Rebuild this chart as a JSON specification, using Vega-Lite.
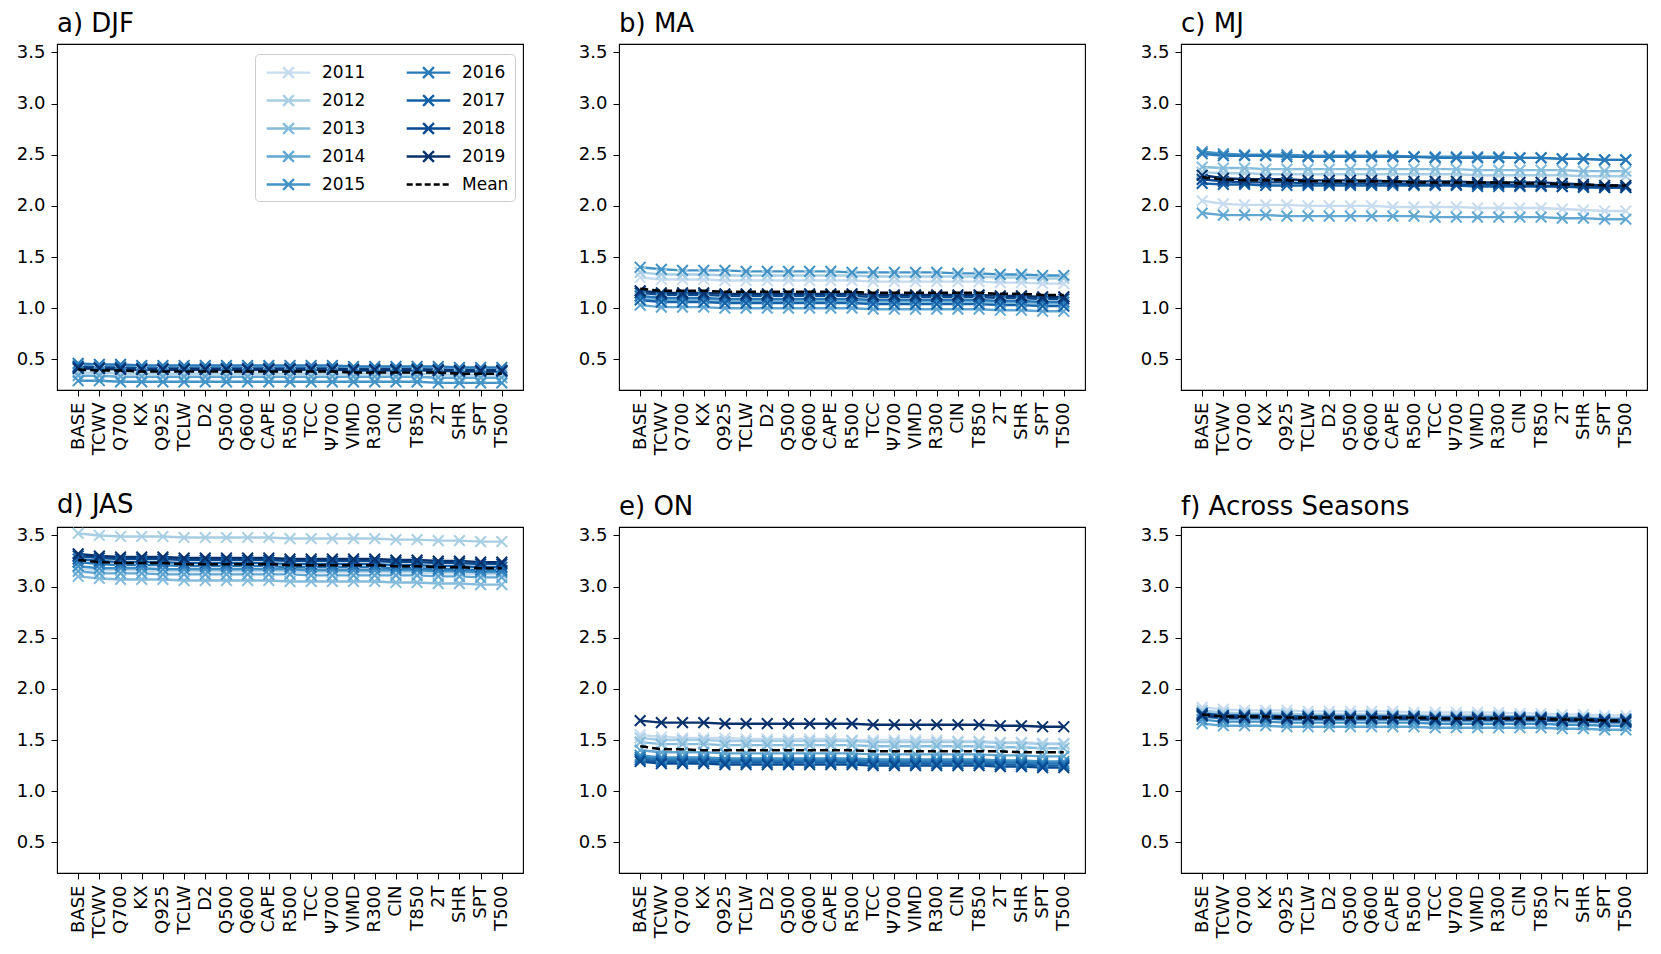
{
"$schema": "https://vega.github.io/schema/vega-lite/v6.json",
"padding": {"left": 15, "top": 10, "right": 5, "bottom": 5},
"background": "white",
"config": {
  "font": "DejaVu Sans",
  "view": {"stroke": "#000000", "strokeWidth": 1.1},
  "axis": {"grid": false, "domain": false, "tickColor": "#000000", "labelColor": "#000000", "labelFontSize": 18, "tickSize": 6, "tickWidth": 1, "labelPadding": 6, "labelFont": "DejaVu Sans"},
  "legend": {"labelFont": "DejaVu Sans"}
},
"data": {"values": [
{"p":"a","s":"2011","x":"BASE","v":0.40},{"p":"a","s":"2011","x":"TCWV","v":0.40},{"p":"a","s":"2011","x":"Q700","v":0.39},{"p":"a","s":"2011","x":"KX","v":0.39},{"p":"a","s":"2011","x":"Q925","v":0.39},{"p":"a","s":"2011","x":"TCLW","v":0.39},{"p":"a","s":"2011","x":"D2","v":0.39},{"p":"a","s":"2011","x":"Q500","v":0.39},{"p":"a","s":"2011","x":"Q600","v":0.39},{"p":"a","s":"2011","x":"CAPE","v":0.39},{"p":"a","s":"2011","x":"R500","v":0.39},{"p":"a","s":"2011","x":"TCC","v":0.39},{"p":"a","s":"2011","x":"Ψ700","v":0.39},{"p":"a","s":"2011","x":"VIMD","v":0.39},{"p":"a","s":"2011","x":"R300","v":0.39},{"p":"a","s":"2011","x":"CIN","v":0.39},{"p":"a","s":"2011","x":"T850","v":0.39},{"p":"a","s":"2011","x":"2T","v":0.38},{"p":"a","s":"2011","x":"SHR","v":0.38},{"p":"a","s":"2011","x":"SPT","v":0.38},{"p":"a","s":"2011","x":"T500","v":0.38},
{"p":"a","s":"2012","x":"BASE","v":0.37},{"p":"a","s":"2012","x":"TCWV","v":0.37},{"p":"a","s":"2012","x":"Q700","v":0.36},{"p":"a","s":"2012","x":"KX","v":0.36},{"p":"a","s":"2012","x":"Q925","v":0.36},{"p":"a","s":"2012","x":"TCLW","v":0.36},{"p":"a","s":"2012","x":"D2","v":0.36},{"p":"a","s":"2012","x":"Q500","v":0.36},{"p":"a","s":"2012","x":"Q600","v":0.36},{"p":"a","s":"2012","x":"CAPE","v":0.36},{"p":"a","s":"2012","x":"R500","v":0.36},{"p":"a","s":"2012","x":"TCC","v":0.36},{"p":"a","s":"2012","x":"Ψ700","v":0.36},{"p":"a","s":"2012","x":"VIMD","v":0.36},{"p":"a","s":"2012","x":"R300","v":0.36},{"p":"a","s":"2012","x":"CIN","v":0.36},{"p":"a","s":"2012","x":"T850","v":0.36},{"p":"a","s":"2012","x":"2T","v":0.35},{"p":"a","s":"2012","x":"SHR","v":0.35},{"p":"a","s":"2012","x":"SPT","v":0.35},{"p":"a","s":"2012","x":"T500","v":0.35},
{"p":"a","s":"2013","x":"BASE","v":0.44},{"p":"a","s":"2013","x":"TCWV","v":0.43},{"p":"a","s":"2013","x":"Q700","v":0.43},{"p":"a","s":"2013","x":"KX","v":0.42},{"p":"a","s":"2013","x":"Q925","v":0.42},{"p":"a","s":"2013","x":"TCLW","v":0.42},{"p":"a","s":"2013","x":"D2","v":0.42},{"p":"a","s":"2013","x":"Q500","v":0.42},{"p":"a","s":"2013","x":"Q600","v":0.42},{"p":"a","s":"2013","x":"CAPE","v":0.42},{"p":"a","s":"2013","x":"R500","v":0.42},{"p":"a","s":"2013","x":"TCC","v":0.42},{"p":"a","s":"2013","x":"Ψ700","v":0.42},{"p":"a","s":"2013","x":"VIMD","v":0.41},{"p":"a","s":"2013","x":"R300","v":0.41},{"p":"a","s":"2013","x":"CIN","v":0.41},{"p":"a","s":"2013","x":"T850","v":0.41},{"p":"a","s":"2013","x":"2T","v":0.41},{"p":"a","s":"2013","x":"SHR","v":0.40},{"p":"a","s":"2013","x":"SPT","v":0.40},{"p":"a","s":"2013","x":"T500","v":0.40},
{"p":"a","s":"2014","x":"BASE","v":0.34},{"p":"a","s":"2014","x":"TCWV","v":0.34},{"p":"a","s":"2014","x":"Q700","v":0.33},{"p":"a","s":"2014","x":"KX","v":0.33},{"p":"a","s":"2014","x":"Q925","v":0.33},{"p":"a","s":"2014","x":"TCLW","v":0.33},{"p":"a","s":"2014","x":"D2","v":0.33},{"p":"a","s":"2014","x":"Q500","v":0.33},{"p":"a","s":"2014","x":"Q600","v":0.33},{"p":"a","s":"2014","x":"CAPE","v":0.33},{"p":"a","s":"2014","x":"R500","v":0.33},{"p":"a","s":"2014","x":"TCC","v":0.33},{"p":"a","s":"2014","x":"Ψ700","v":0.33},{"p":"a","s":"2014","x":"VIMD","v":0.33},{"p":"a","s":"2014","x":"R300","v":0.33},{"p":"a","s":"2014","x":"CIN","v":0.33},{"p":"a","s":"2014","x":"T850","v":0.33},{"p":"a","s":"2014","x":"2T","v":0.32},{"p":"a","s":"2014","x":"SHR","v":0.32},{"p":"a","s":"2014","x":"SPT","v":0.32},{"p":"a","s":"2014","x":"T500","v":0.32},
{"p":"a","s":"2015","x":"BASE","v":0.29},{"p":"a","s":"2015","x":"TCWV","v":0.29},{"p":"a","s":"2015","x":"Q700","v":0.28},{"p":"a","s":"2015","x":"KX","v":0.28},{"p":"a","s":"2015","x":"Q925","v":0.28},{"p":"a","s":"2015","x":"TCLW","v":0.28},{"p":"a","s":"2015","x":"D2","v":0.28},{"p":"a","s":"2015","x":"Q500","v":0.28},{"p":"a","s":"2015","x":"Q600","v":0.28},{"p":"a","s":"2015","x":"CAPE","v":0.28},{"p":"a","s":"2015","x":"R500","v":0.28},{"p":"a","s":"2015","x":"TCC","v":0.28},{"p":"a","s":"2015","x":"Ψ700","v":0.28},{"p":"a","s":"2015","x":"VIMD","v":0.28},{"p":"a","s":"2015","x":"R300","v":0.28},{"p":"a","s":"2015","x":"CIN","v":0.28},{"p":"a","s":"2015","x":"T850","v":0.28},{"p":"a","s":"2015","x":"2T","v":0.27},{"p":"a","s":"2015","x":"SHR","v":0.27},{"p":"a","s":"2015","x":"SPT","v":0.27},{"p":"a","s":"2015","x":"T500","v":0.27},
{"p":"a","s":"2016","x":"BASE","v":0.46},{"p":"a","s":"2016","x":"TCWV","v":0.45},{"p":"a","s":"2016","x":"Q700","v":0.45},{"p":"a","s":"2016","x":"KX","v":0.44},{"p":"a","s":"2016","x":"Q925","v":0.44},{"p":"a","s":"2016","x":"TCLW","v":0.44},{"p":"a","s":"2016","x":"D2","v":0.44},{"p":"a","s":"2016","x":"Q500","v":0.44},{"p":"a","s":"2016","x":"Q600","v":0.44},{"p":"a","s":"2016","x":"CAPE","v":0.44},{"p":"a","s":"2016","x":"R500","v":0.44},{"p":"a","s":"2016","x":"TCC","v":0.44},{"p":"a","s":"2016","x":"Ψ700","v":0.44},{"p":"a","s":"2016","x":"VIMD","v":0.43},{"p":"a","s":"2016","x":"R300","v":0.43},{"p":"a","s":"2016","x":"CIN","v":0.43},{"p":"a","s":"2016","x":"T850","v":0.43},{"p":"a","s":"2016","x":"2T","v":0.43},{"p":"a","s":"2016","x":"SHR","v":0.42},{"p":"a","s":"2016","x":"SPT","v":0.42},{"p":"a","s":"2016","x":"T500","v":0.42},
{"p":"a","s":"2017","x":"BASE","v":0.42},{"p":"a","s":"2017","x":"TCWV","v":0.41},{"p":"a","s":"2017","x":"Q700","v":0.41},{"p":"a","s":"2017","x":"KX","v":0.40},{"p":"a","s":"2017","x":"Q925","v":0.40},{"p":"a","s":"2017","x":"TCLW","v":0.40},{"p":"a","s":"2017","x":"D2","v":0.40},{"p":"a","s":"2017","x":"Q500","v":0.40},{"p":"a","s":"2017","x":"Q600","v":0.40},{"p":"a","s":"2017","x":"CAPE","v":0.40},{"p":"a","s":"2017","x":"R500","v":0.40},{"p":"a","s":"2017","x":"TCC","v":0.40},{"p":"a","s":"2017","x":"Ψ700","v":0.40},{"p":"a","s":"2017","x":"VIMD","v":0.39},{"p":"a","s":"2017","x":"R300","v":0.39},{"p":"a","s":"2017","x":"CIN","v":0.39},{"p":"a","s":"2017","x":"T850","v":0.39},{"p":"a","s":"2017","x":"2T","v":0.39},{"p":"a","s":"2017","x":"SHR","v":0.38},{"p":"a","s":"2017","x":"SPT","v":0.38},{"p":"a","s":"2017","x":"T500","v":0.38},
{"p":"a","s":"2018","x":"BASE","v":0.43},{"p":"a","s":"2018","x":"TCWV","v":0.42},{"p":"a","s":"2018","x":"Q700","v":0.42},{"p":"a","s":"2018","x":"KX","v":0.41},{"p":"a","s":"2018","x":"Q925","v":0.41},{"p":"a","s":"2018","x":"TCLW","v":0.41},{"p":"a","s":"2018","x":"D2","v":0.41},{"p":"a","s":"2018","x":"Q500","v":0.41},{"p":"a","s":"2018","x":"Q600","v":0.41},{"p":"a","s":"2018","x":"CAPE","v":0.41},{"p":"a","s":"2018","x":"R500","v":0.41},{"p":"a","s":"2018","x":"TCC","v":0.41},{"p":"a","s":"2018","x":"Ψ700","v":0.41},{"p":"a","s":"2018","x":"VIMD","v":0.40},{"p":"a","s":"2018","x":"R300","v":0.40},{"p":"a","s":"2018","x":"CIN","v":0.40},{"p":"a","s":"2018","x":"T850","v":0.40},{"p":"a","s":"2018","x":"2T","v":0.40},{"p":"a","s":"2018","x":"SHR","v":0.39},{"p":"a","s":"2018","x":"SPT","v":0.39},{"p":"a","s":"2018","x":"T500","v":0.39},
{"p":"a","s":"2019","x":"BASE","v":0.41},{"p":"a","s":"2019","x":"TCWV","v":0.41},{"p":"a","s":"2019","x":"Q700","v":0.40},{"p":"a","s":"2019","x":"KX","v":0.40},{"p":"a","s":"2019","x":"Q925","v":0.40},{"p":"a","s":"2019","x":"TCLW","v":0.40},{"p":"a","s":"2019","x":"D2","v":0.40},{"p":"a","s":"2019","x":"Q500","v":0.40},{"p":"a","s":"2019","x":"Q600","v":0.40},{"p":"a","s":"2019","x":"CAPE","v":0.40},{"p":"a","s":"2019","x":"R500","v":0.40},{"p":"a","s":"2019","x":"TCC","v":0.40},{"p":"a","s":"2019","x":"Ψ700","v":0.40},{"p":"a","s":"2019","x":"VIMD","v":0.40},{"p":"a","s":"2019","x":"R300","v":0.40},{"p":"a","s":"2019","x":"CIN","v":0.40},{"p":"a","s":"2019","x":"T850","v":0.40},{"p":"a","s":"2019","x":"2T","v":0.39},{"p":"a","s":"2019","x":"SHR","v":0.39},{"p":"a","s":"2019","x":"SPT","v":0.39},{"p":"a","s":"2019","x":"T500","v":0.39},
{"p":"a","s":"Mean","x":"BASE","v":0.40},{"p":"a","s":"Mean","x":"TCWV","v":0.39},{"p":"a","s":"Mean","x":"Q700","v":0.39},{"p":"a","s":"Mean","x":"KX","v":0.38},{"p":"a","s":"Mean","x":"Q925","v":0.38},{"p":"a","s":"Mean","x":"TCLW","v":0.38},{"p":"a","s":"Mean","x":"D2","v":0.38},{"p":"a","s":"Mean","x":"Q500","v":0.38},{"p":"a","s":"Mean","x":"Q600","v":0.38},{"p":"a","s":"Mean","x":"CAPE","v":0.38},{"p":"a","s":"Mean","x":"R500","v":0.38},{"p":"a","s":"Mean","x":"TCC","v":0.38},{"p":"a","s":"Mean","x":"Ψ700","v":0.38},{"p":"a","s":"Mean","x":"VIMD","v":0.37},{"p":"a","s":"Mean","x":"R300","v":0.37},{"p":"a","s":"Mean","x":"CIN","v":0.37},{"p":"a","s":"Mean","x":"T850","v":0.37},{"p":"a","s":"Mean","x":"2T","v":0.37},{"p":"a","s":"Mean","x":"SHR","v":0.36},{"p":"a","s":"Mean","x":"SPT","v":0.36},{"p":"a","s":"Mean","x":"T500","v":0.36},
{"p":"b","s":"2011","x":"BASE","v":1.30},{"p":"b","s":"2011","x":"TCWV","v":1.28},{"p":"b","s":"2011","x":"Q700","v":1.28},{"p":"b","s":"2011","x":"KX","v":1.28},{"p":"b","s":"2011","x":"Q925","v":1.27},{"p":"b","s":"2011","x":"TCLW","v":1.27},{"p":"b","s":"2011","x":"D2","v":1.27},{"p":"b","s":"2011","x":"Q500","v":1.27},{"p":"b","s":"2011","x":"Q600","v":1.27},{"p":"b","s":"2011","x":"CAPE","v":1.27},{"p":"b","s":"2011","x":"R500","v":1.27},{"p":"b","s":"2011","x":"TCC","v":1.26},{"p":"b","s":"2011","x":"Ψ700","v":1.26},{"p":"b","s":"2011","x":"VIMD","v":1.26},{"p":"b","s":"2011","x":"R300","v":1.26},{"p":"b","s":"2011","x":"CIN","v":1.26},{"p":"b","s":"2011","x":"T850","v":1.26},{"p":"b","s":"2011","x":"2T","v":1.25},{"p":"b","s":"2011","x":"SHR","v":1.25},{"p":"b","s":"2011","x":"SPT","v":1.24},{"p":"b","s":"2011","x":"T500","v":1.24},
{"p":"b","s":"2012","x":"BASE","v":1.35},{"p":"b","s":"2012","x":"TCWV","v":1.33},{"p":"b","s":"2012","x":"Q700","v":1.33},{"p":"b","s":"2012","x":"KX","v":1.33},{"p":"b","s":"2012","x":"Q925","v":1.32},{"p":"b","s":"2012","x":"TCLW","v":1.32},{"p":"b","s":"2012","x":"D2","v":1.32},{"p":"b","s":"2012","x":"Q500","v":1.32},{"p":"b","s":"2012","x":"Q600","v":1.32},{"p":"b","s":"2012","x":"CAPE","v":1.32},{"p":"b","s":"2012","x":"R500","v":1.32},{"p":"b","s":"2012","x":"TCC","v":1.31},{"p":"b","s":"2012","x":"Ψ700","v":1.31},{"p":"b","s":"2012","x":"VIMD","v":1.31},{"p":"b","s":"2012","x":"R300","v":1.31},{"p":"b","s":"2012","x":"CIN","v":1.31},{"p":"b","s":"2012","x":"T850","v":1.31},{"p":"b","s":"2012","x":"2T","v":1.30},{"p":"b","s":"2012","x":"SHR","v":1.30},{"p":"b","s":"2012","x":"SPT","v":1.29},{"p":"b","s":"2012","x":"T500","v":1.29},
{"p":"b","s":"2013","x":"BASE","v":1.10},{"p":"b","s":"2013","x":"TCWV","v":1.08},{"p":"b","s":"2013","x":"Q700","v":1.08},{"p":"b","s":"2013","x":"KX","v":1.08},{"p":"b","s":"2013","x":"Q925","v":1.07},{"p":"b","s":"2013","x":"TCLW","v":1.07},{"p":"b","s":"2013","x":"D2","v":1.07},{"p":"b","s":"2013","x":"Q500","v":1.07},{"p":"b","s":"2013","x":"Q600","v":1.07},{"p":"b","s":"2013","x":"CAPE","v":1.07},{"p":"b","s":"2013","x":"R500","v":1.07},{"p":"b","s":"2013","x":"TCC","v":1.06},{"p":"b","s":"2013","x":"Ψ700","v":1.06},{"p":"b","s":"2013","x":"VIMD","v":1.06},{"p":"b","s":"2013","x":"R300","v":1.06},{"p":"b","s":"2013","x":"CIN","v":1.06},{"p":"b","s":"2013","x":"T850","v":1.06},{"p":"b","s":"2013","x":"2T","v":1.05},{"p":"b","s":"2013","x":"SHR","v":1.05},{"p":"b","s":"2013","x":"SPT","v":1.04},{"p":"b","s":"2013","x":"T500","v":1.04},
{"p":"b","s":"2014","x":"BASE","v":1.03},{"p":"b","s":"2014","x":"TCWV","v":1.01},{"p":"b","s":"2014","x":"Q700","v":1.01},{"p":"b","s":"2014","x":"KX","v":1.01},{"p":"b","s":"2014","x":"Q925","v":1.00},{"p":"b","s":"2014","x":"TCLW","v":1.00},{"p":"b","s":"2014","x":"D2","v":1.00},{"p":"b","s":"2014","x":"Q500","v":1.00},{"p":"b","s":"2014","x":"Q600","v":1.00},{"p":"b","s":"2014","x":"CAPE","v":1.00},{"p":"b","s":"2014","x":"R500","v":1.00},{"p":"b","s":"2014","x":"TCC","v":0.99},{"p":"b","s":"2014","x":"Ψ700","v":0.99},{"p":"b","s":"2014","x":"VIMD","v":0.99},{"p":"b","s":"2014","x":"R300","v":0.99},{"p":"b","s":"2014","x":"CIN","v":0.99},{"p":"b","s":"2014","x":"T850","v":0.99},{"p":"b","s":"2014","x":"2T","v":0.98},{"p":"b","s":"2014","x":"SHR","v":0.98},{"p":"b","s":"2014","x":"SPT","v":0.97},{"p":"b","s":"2014","x":"T500","v":0.97},
{"p":"b","s":"2015","x":"BASE","v":1.40},{"p":"b","s":"2015","x":"TCWV","v":1.38},{"p":"b","s":"2015","x":"Q700","v":1.37},{"p":"b","s":"2015","x":"KX","v":1.37},{"p":"b","s":"2015","x":"Q925","v":1.37},{"p":"b","s":"2015","x":"TCLW","v":1.36},{"p":"b","s":"2015","x":"D2","v":1.36},{"p":"b","s":"2015","x":"Q500","v":1.36},{"p":"b","s":"2015","x":"Q600","v":1.36},{"p":"b","s":"2015","x":"CAPE","v":1.36},{"p":"b","s":"2015","x":"R500","v":1.35},{"p":"b","s":"2015","x":"TCC","v":1.35},{"p":"b","s":"2015","x":"Ψ700","v":1.35},{"p":"b","s":"2015","x":"VIMD","v":1.35},{"p":"b","s":"2015","x":"R300","v":1.35},{"p":"b","s":"2015","x":"CIN","v":1.34},{"p":"b","s":"2015","x":"T850","v":1.34},{"p":"b","s":"2015","x":"2T","v":1.33},{"p":"b","s":"2015","x":"SHR","v":1.33},{"p":"b","s":"2015","x":"SPT","v":1.32},{"p":"b","s":"2015","x":"T500","v":1.32},
{"p":"b","s":"2016","x":"BASE","v":1.12},{"p":"b","s":"2016","x":"TCWV","v":1.10},{"p":"b","s":"2016","x":"Q700","v":1.10},{"p":"b","s":"2016","x":"KX","v":1.10},{"p":"b","s":"2016","x":"Q925","v":1.09},{"p":"b","s":"2016","x":"TCLW","v":1.09},{"p":"b","s":"2016","x":"D2","v":1.09},{"p":"b","s":"2016","x":"Q500","v":1.09},{"p":"b","s":"2016","x":"Q600","v":1.09},{"p":"b","s":"2016","x":"CAPE","v":1.09},{"p":"b","s":"2016","x":"R500","v":1.09},{"p":"b","s":"2016","x":"TCC","v":1.08},{"p":"b","s":"2016","x":"Ψ700","v":1.08},{"p":"b","s":"2016","x":"VIMD","v":1.08},{"p":"b","s":"2016","x":"R300","v":1.08},{"p":"b","s":"2016","x":"CIN","v":1.08},{"p":"b","s":"2016","x":"T850","v":1.08},{"p":"b","s":"2016","x":"2T","v":1.07},{"p":"b","s":"2016","x":"SHR","v":1.07},{"p":"b","s":"2016","x":"SPT","v":1.06},{"p":"b","s":"2016","x":"T500","v":1.06},
{"p":"b","s":"2017","x":"BASE","v":1.08},{"p":"b","s":"2017","x":"TCWV","v":1.06},{"p":"b","s":"2017","x":"Q700","v":1.06},{"p":"b","s":"2017","x":"KX","v":1.06},{"p":"b","s":"2017","x":"Q925","v":1.05},{"p":"b","s":"2017","x":"TCLW","v":1.05},{"p":"b","s":"2017","x":"D2","v":1.05},{"p":"b","s":"2017","x":"Q500","v":1.05},{"p":"b","s":"2017","x":"Q600","v":1.05},{"p":"b","s":"2017","x":"CAPE","v":1.05},{"p":"b","s":"2017","x":"R500","v":1.05},{"p":"b","s":"2017","x":"TCC","v":1.04},{"p":"b","s":"2017","x":"Ψ700","v":1.04},{"p":"b","s":"2017","x":"VIMD","v":1.04},{"p":"b","s":"2017","x":"R300","v":1.04},{"p":"b","s":"2017","x":"CIN","v":1.04},{"p":"b","s":"2017","x":"T850","v":1.04},{"p":"b","s":"2017","x":"2T","v":1.03},{"p":"b","s":"2017","x":"SHR","v":1.03},{"p":"b","s":"2017","x":"SPT","v":1.02},{"p":"b","s":"2017","x":"T500","v":1.02},
{"p":"b","s":"2018","x":"BASE","v":1.15},{"p":"b","s":"2018","x":"TCWV","v":1.13},{"p":"b","s":"2018","x":"Q700","v":1.13},{"p":"b","s":"2018","x":"KX","v":1.13},{"p":"b","s":"2018","x":"Q925","v":1.12},{"p":"b","s":"2018","x":"TCLW","v":1.12},{"p":"b","s":"2018","x":"D2","v":1.12},{"p":"b","s":"2018","x":"Q500","v":1.12},{"p":"b","s":"2018","x":"Q600","v":1.12},{"p":"b","s":"2018","x":"CAPE","v":1.12},{"p":"b","s":"2018","x":"R500","v":1.12},{"p":"b","s":"2018","x":"TCC","v":1.11},{"p":"b","s":"2018","x":"Ψ700","v":1.11},{"p":"b","s":"2018","x":"VIMD","v":1.11},{"p":"b","s":"2018","x":"R300","v":1.11},{"p":"b","s":"2018","x":"CIN","v":1.11},{"p":"b","s":"2018","x":"T850","v":1.11},{"p":"b","s":"2018","x":"2T","v":1.10},{"p":"b","s":"2018","x":"SHR","v":1.10},{"p":"b","s":"2018","x":"SPT","v":1.09},{"p":"b","s":"2018","x":"T500","v":1.09},
{"p":"b","s":"2019","x":"BASE","v":1.17},{"p":"b","s":"2019","x":"TCWV","v":1.15},{"p":"b","s":"2019","x":"Q700","v":1.15},{"p":"b","s":"2019","x":"KX","v":1.15},{"p":"b","s":"2019","x":"Q925","v":1.14},{"p":"b","s":"2019","x":"TCLW","v":1.14},{"p":"b","s":"2019","x":"D2","v":1.14},{"p":"b","s":"2019","x":"Q500","v":1.14},{"p":"b","s":"2019","x":"Q600","v":1.14},{"p":"b","s":"2019","x":"CAPE","v":1.14},{"p":"b","s":"2019","x":"R500","v":1.14},{"p":"b","s":"2019","x":"TCC","v":1.13},{"p":"b","s":"2019","x":"Ψ700","v":1.13},{"p":"b","s":"2019","x":"VIMD","v":1.13},{"p":"b","s":"2019","x":"R300","v":1.13},{"p":"b","s":"2019","x":"CIN","v":1.13},{"p":"b","s":"2019","x":"T850","v":1.13},{"p":"b","s":"2019","x":"2T","v":1.12},{"p":"b","s":"2019","x":"SHR","v":1.12},{"p":"b","s":"2019","x":"SPT","v":1.11},{"p":"b","s":"2019","x":"T500","v":1.11},
{"p":"b","s":"Mean","x":"BASE","v":1.19},{"p":"b","s":"Mean","x":"TCWV","v":1.17},{"p":"b","s":"Mean","x":"Q700","v":1.17},{"p":"b","s":"Mean","x":"KX","v":1.17},{"p":"b","s":"Mean","x":"Q925","v":1.16},{"p":"b","s":"Mean","x":"TCLW","v":1.16},{"p":"b","s":"Mean","x":"D2","v":1.16},{"p":"b","s":"Mean","x":"Q500","v":1.16},{"p":"b","s":"Mean","x":"Q600","v":1.16},{"p":"b","s":"Mean","x":"CAPE","v":1.16},{"p":"b","s":"Mean","x":"R500","v":1.16},{"p":"b","s":"Mean","x":"TCC","v":1.15},{"p":"b","s":"Mean","x":"Ψ700","v":1.15},{"p":"b","s":"Mean","x":"VIMD","v":1.15},{"p":"b","s":"Mean","x":"R300","v":1.15},{"p":"b","s":"Mean","x":"CIN","v":1.15},{"p":"b","s":"Mean","x":"T850","v":1.15},{"p":"b","s":"Mean","x":"2T","v":1.14},{"p":"b","s":"Mean","x":"SHR","v":1.14},{"p":"b","s":"Mean","x":"SPT","v":1.13},{"p":"b","s":"Mean","x":"T500","v":1.13},
{"p":"c","s":"2011","x":"BASE","v":2.05},{"p":"c","s":"2011","x":"TCWV","v":2.02},{"p":"c","s":"2011","x":"Q700","v":2.01},{"p":"c","s":"2011","x":"KX","v":2.01},{"p":"c","s":"2011","x":"Q925","v":2.01},{"p":"c","s":"2011","x":"TCLW","v":2.00},{"p":"c","s":"2011","x":"D2","v":2.00},{"p":"c","s":"2011","x":"Q500","v":2.00},{"p":"c","s":"2011","x":"Q600","v":2.00},{"p":"c","s":"2011","x":"CAPE","v":1.99},{"p":"c","s":"2011","x":"R500","v":1.99},{"p":"c","s":"2011","x":"TCC","v":1.99},{"p":"c","s":"2011","x":"Ψ700","v":1.99},{"p":"c","s":"2011","x":"VIMD","v":1.98},{"p":"c","s":"2011","x":"R300","v":1.98},{"p":"c","s":"2011","x":"CIN","v":1.98},{"p":"c","s":"2011","x":"T850","v":1.98},{"p":"c","s":"2011","x":"2T","v":1.97},{"p":"c","s":"2011","x":"SHR","v":1.96},{"p":"c","s":"2011","x":"SPT","v":1.95},{"p":"c","s":"2011","x":"T500","v":1.95},
{"p":"c","s":"2012","x":"BASE","v":2.33},{"p":"c","s":"2012","x":"TCWV","v":2.32},{"p":"c","s":"2012","x":"Q700","v":2.32},{"p":"c","s":"2012","x":"KX","v":2.31},{"p":"c","s":"2012","x":"Q925","v":2.31},{"p":"c","s":"2012","x":"TCLW","v":2.31},{"p":"c","s":"2012","x":"D2","v":2.31},{"p":"c","s":"2012","x":"Q500","v":2.31},{"p":"c","s":"2012","x":"Q600","v":2.31},{"p":"c","s":"2012","x":"CAPE","v":2.31},{"p":"c","s":"2012","x":"R500","v":2.31},{"p":"c","s":"2012","x":"TCC","v":2.31},{"p":"c","s":"2012","x":"Ψ700","v":2.31},{"p":"c","s":"2012","x":"VIMD","v":2.30},{"p":"c","s":"2012","x":"R300","v":2.30},{"p":"c","s":"2012","x":"CIN","v":2.30},{"p":"c","s":"2012","x":"T850","v":2.30},{"p":"c","s":"2012","x":"2T","v":2.30},{"p":"c","s":"2012","x":"SHR","v":2.29},{"p":"c","s":"2012","x":"SPT","v":2.29},{"p":"c","s":"2012","x":"T500","v":2.29},
{"p":"c","s":"2013","x":"BASE","v":2.38},{"p":"c","s":"2013","x":"TCWV","v":2.37},{"p":"c","s":"2013","x":"Q700","v":2.37},{"p":"c","s":"2013","x":"KX","v":2.36},{"p":"c","s":"2013","x":"Q925","v":2.36},{"p":"c","s":"2013","x":"TCLW","v":2.36},{"p":"c","s":"2013","x":"D2","v":2.36},{"p":"c","s":"2013","x":"Q500","v":2.36},{"p":"c","s":"2013","x":"Q600","v":2.36},{"p":"c","s":"2013","x":"CAPE","v":2.36},{"p":"c","s":"2013","x":"R500","v":2.36},{"p":"c","s":"2013","x":"TCC","v":2.36},{"p":"c","s":"2013","x":"Ψ700","v":2.36},{"p":"c","s":"2013","x":"VIMD","v":2.35},{"p":"c","s":"2013","x":"R300","v":2.35},{"p":"c","s":"2013","x":"CIN","v":2.35},{"p":"c","s":"2013","x":"T850","v":2.35},{"p":"c","s":"2013","x":"2T","v":2.35},{"p":"c","s":"2013","x":"SHR","v":2.34},{"p":"c","s":"2013","x":"SPT","v":2.34},{"p":"c","s":"2013","x":"T500","v":2.34},
{"p":"c","s":"2014","x":"BASE","v":1.93},{"p":"c","s":"2014","x":"TCWV","v":1.91},{"p":"c","s":"2014","x":"Q700","v":1.91},{"p":"c","s":"2014","x":"KX","v":1.91},{"p":"c","s":"2014","x":"Q925","v":1.90},{"p":"c","s":"2014","x":"TCLW","v":1.90},{"p":"c","s":"2014","x":"D2","v":1.90},{"p":"c","s":"2014","x":"Q500","v":1.90},{"p":"c","s":"2014","x":"Q600","v":1.90},{"p":"c","s":"2014","x":"CAPE","v":1.90},{"p":"c","s":"2014","x":"R500","v":1.90},{"p":"c","s":"2014","x":"TCC","v":1.89},{"p":"c","s":"2014","x":"Ψ700","v":1.89},{"p":"c","s":"2014","x":"VIMD","v":1.89},{"p":"c","s":"2014","x":"R300","v":1.89},{"p":"c","s":"2014","x":"CIN","v":1.89},{"p":"c","s":"2014","x":"T850","v":1.89},{"p":"c","s":"2014","x":"2T","v":1.88},{"p":"c","s":"2014","x":"SHR","v":1.88},{"p":"c","s":"2014","x":"SPT","v":1.87},{"p":"c","s":"2014","x":"T500","v":1.87},
{"p":"c","s":"2015","x":"BASE","v":2.53},{"p":"c","s":"2015","x":"TCWV","v":2.51},{"p":"c","s":"2015","x":"Q700","v":2.50},{"p":"c","s":"2015","x":"KX","v":2.50},{"p":"c","s":"2015","x":"Q925","v":2.50},{"p":"c","s":"2015","x":"TCLW","v":2.49},{"p":"c","s":"2015","x":"D2","v":2.49},{"p":"c","s":"2015","x":"Q500","v":2.49},{"p":"c","s":"2015","x":"Q600","v":2.49},{"p":"c","s":"2015","x":"CAPE","v":2.49},{"p":"c","s":"2015","x":"R500","v":2.48},{"p":"c","s":"2015","x":"TCC","v":2.48},{"p":"c","s":"2015","x":"Ψ700","v":2.48},{"p":"c","s":"2015","x":"VIMD","v":2.48},{"p":"c","s":"2015","x":"R300","v":2.48},{"p":"c","s":"2015","x":"CIN","v":2.47},{"p":"c","s":"2015","x":"T850","v":2.47},{"p":"c","s":"2015","x":"2T","v":2.46},{"p":"c","s":"2015","x":"SHR","v":2.46},{"p":"c","s":"2015","x":"SPT","v":2.45},{"p":"c","s":"2015","x":"T500","v":2.45},
{"p":"c","s":"2016","x":"BASE","v":2.51},{"p":"c","s":"2016","x":"TCWV","v":2.49},{"p":"c","s":"2016","x":"Q700","v":2.49},{"p":"c","s":"2016","x":"KX","v":2.49},{"p":"c","s":"2016","x":"Q925","v":2.48},{"p":"c","s":"2016","x":"TCLW","v":2.48},{"p":"c","s":"2016","x":"D2","v":2.48},{"p":"c","s":"2016","x":"Q500","v":2.48},{"p":"c","s":"2016","x":"Q600","v":2.48},{"p":"c","s":"2016","x":"CAPE","v":2.48},{"p":"c","s":"2016","x":"R500","v":2.48},{"p":"c","s":"2016","x":"TCC","v":2.47},{"p":"c","s":"2016","x":"Ψ700","v":2.47},{"p":"c","s":"2016","x":"VIMD","v":2.47},{"p":"c","s":"2016","x":"R300","v":2.47},{"p":"c","s":"2016","x":"CIN","v":2.47},{"p":"c","s":"2016","x":"T850","v":2.47},{"p":"c","s":"2016","x":"2T","v":2.46},{"p":"c","s":"2016","x":"SHR","v":2.46},{"p":"c","s":"2016","x":"SPT","v":2.45},{"p":"c","s":"2016","x":"T500","v":2.45},
{"p":"c","s":"2017","x":"BASE","v":2.22},{"p":"c","s":"2017","x":"TCWV","v":2.21},{"p":"c","s":"2017","x":"Q700","v":2.21},{"p":"c","s":"2017","x":"KX","v":2.20},{"p":"c","s":"2017","x":"Q925","v":2.20},{"p":"c","s":"2017","x":"TCLW","v":2.20},{"p":"c","s":"2017","x":"D2","v":2.20},{"p":"c","s":"2017","x":"Q500","v":2.20},{"p":"c","s":"2017","x":"Q600","v":2.20},{"p":"c","s":"2017","x":"CAPE","v":2.20},{"p":"c","s":"2017","x":"R500","v":2.20},{"p":"c","s":"2017","x":"TCC","v":2.20},{"p":"c","s":"2017","x":"Ψ700","v":2.20},{"p":"c","s":"2017","x":"VIMD","v":2.19},{"p":"c","s":"2017","x":"R300","v":2.19},{"p":"c","s":"2017","x":"CIN","v":2.19},{"p":"c","s":"2017","x":"T850","v":2.19},{"p":"c","s":"2017","x":"2T","v":2.19},{"p":"c","s":"2017","x":"SHR","v":2.18},{"p":"c","s":"2017","x":"SPT","v":2.18},{"p":"c","s":"2017","x":"T500","v":2.18},
{"p":"c","s":"2018","x":"BASE","v":2.26},{"p":"c","s":"2018","x":"TCWV","v":2.24},{"p":"c","s":"2018","x":"Q700","v":2.23},{"p":"c","s":"2018","x":"KX","v":2.23},{"p":"c","s":"2018","x":"Q925","v":2.23},{"p":"c","s":"2018","x":"TCLW","v":2.22},{"p":"c","s":"2018","x":"D2","v":2.22},{"p":"c","s":"2018","x":"Q500","v":2.22},{"p":"c","s":"2018","x":"Q600","v":2.22},{"p":"c","s":"2018","x":"CAPE","v":2.22},{"p":"c","s":"2018","x":"R500","v":2.21},{"p":"c","s":"2018","x":"TCC","v":2.21},{"p":"c","s":"2018","x":"Ψ700","v":2.21},{"p":"c","s":"2018","x":"VIMD","v":2.21},{"p":"c","s":"2018","x":"R300","v":2.21},{"p":"c","s":"2018","x":"CIN","v":2.20},{"p":"c","s":"2018","x":"T850","v":2.20},{"p":"c","s":"2018","x":"2T","v":2.19},{"p":"c","s":"2018","x":"SHR","v":2.19},{"p":"c","s":"2018","x":"SPT","v":2.18},{"p":"c","s":"2018","x":"T500","v":2.18},
{"p":"c","s":"2019","x":"BASE","v":2.30},{"p":"c","s":"2019","x":"TCWV","v":2.27},{"p":"c","s":"2019","x":"Q700","v":2.26},{"p":"c","s":"2019","x":"KX","v":2.26},{"p":"c","s":"2019","x":"Q925","v":2.26},{"p":"c","s":"2019","x":"TCLW","v":2.25},{"p":"c","s":"2019","x":"D2","v":2.25},{"p":"c","s":"2019","x":"Q500","v":2.25},{"p":"c","s":"2019","x":"Q600","v":2.25},{"p":"c","s":"2019","x":"CAPE","v":2.24},{"p":"c","s":"2019","x":"R500","v":2.24},{"p":"c","s":"2019","x":"TCC","v":2.24},{"p":"c","s":"2019","x":"Ψ700","v":2.24},{"p":"c","s":"2019","x":"VIMD","v":2.23},{"p":"c","s":"2019","x":"R300","v":2.23},{"p":"c","s":"2019","x":"CIN","v":2.23},{"p":"c","s":"2019","x":"T850","v":2.23},{"p":"c","s":"2019","x":"2T","v":2.22},{"p":"c","s":"2019","x":"SHR","v":2.21},{"p":"c","s":"2019","x":"SPT","v":2.20},{"p":"c","s":"2019","x":"T500","v":2.20},
{"p":"c","s":"Mean","x":"BASE","v":2.28},{"p":"c","s":"Mean","x":"TCWV","v":2.26},{"p":"c","s":"Mean","x":"Q700","v":2.25},{"p":"c","s":"Mean","x":"KX","v":2.25},{"p":"c","s":"Mean","x":"Q925","v":2.25},{"p":"c","s":"Mean","x":"TCLW","v":2.24},{"p":"c","s":"Mean","x":"D2","v":2.24},{"p":"c","s":"Mean","x":"Q500","v":2.24},{"p":"c","s":"Mean","x":"Q600","v":2.24},{"p":"c","s":"Mean","x":"CAPE","v":2.24},{"p":"c","s":"Mean","x":"R500","v":2.23},{"p":"c","s":"Mean","x":"TCC","v":2.23},{"p":"c","s":"Mean","x":"Ψ700","v":2.23},{"p":"c","s":"Mean","x":"VIMD","v":2.23},{"p":"c","s":"Mean","x":"R300","v":2.23},{"p":"c","s":"Mean","x":"CIN","v":2.22},{"p":"c","s":"Mean","x":"T850","v":2.22},{"p":"c","s":"Mean","x":"2T","v":2.21},{"p":"c","s":"Mean","x":"SHR","v":2.21},{"p":"c","s":"Mean","x":"SPT","v":2.20},{"p":"c","s":"Mean","x":"T500","v":2.20},
{"p":"d","s":"2011","x":"BASE","v":3.18},{"p":"d","s":"2011","x":"TCWV","v":3.16},{"p":"d","s":"2011","x":"Q700","v":3.16},{"p":"d","s":"2011","x":"KX","v":3.16},{"p":"d","s":"2011","x":"Q925","v":3.15},{"p":"d","s":"2011","x":"TCLW","v":3.15},{"p":"d","s":"2011","x":"D2","v":3.15},{"p":"d","s":"2011","x":"Q500","v":3.15},{"p":"d","s":"2011","x":"Q600","v":3.15},{"p":"d","s":"2011","x":"CAPE","v":3.15},{"p":"d","s":"2011","x":"R500","v":3.15},{"p":"d","s":"2011","x":"TCC","v":3.14},{"p":"d","s":"2011","x":"Ψ700","v":3.14},{"p":"d","s":"2011","x":"VIMD","v":3.14},{"p":"d","s":"2011","x":"R300","v":3.14},{"p":"d","s":"2011","x":"CIN","v":3.14},{"p":"d","s":"2011","x":"T850","v":3.14},{"p":"d","s":"2011","x":"2T","v":3.13},{"p":"d","s":"2011","x":"SHR","v":3.13},{"p":"d","s":"2011","x":"SPT","v":3.12},{"p":"d","s":"2011","x":"T500","v":3.12},
{"p":"d","s":"2012","x":"BASE","v":3.52},{"p":"d","s":"2012","x":"TCWV","v":3.50},{"p":"d","s":"2012","x":"Q700","v":3.49},{"p":"d","s":"2012","x":"KX","v":3.49},{"p":"d","s":"2012","x":"Q925","v":3.49},{"p":"d","s":"2012","x":"TCLW","v":3.48},{"p":"d","s":"2012","x":"D2","v":3.48},{"p":"d","s":"2012","x":"Q500","v":3.48},{"p":"d","s":"2012","x":"Q600","v":3.48},{"p":"d","s":"2012","x":"CAPE","v":3.48},{"p":"d","s":"2012","x":"R500","v":3.47},{"p":"d","s":"2012","x":"TCC","v":3.47},{"p":"d","s":"2012","x":"Ψ700","v":3.47},{"p":"d","s":"2012","x":"VIMD","v":3.47},{"p":"d","s":"2012","x":"R300","v":3.47},{"p":"d","s":"2012","x":"CIN","v":3.46},{"p":"d","s":"2012","x":"T850","v":3.46},{"p":"d","s":"2012","x":"2T","v":3.45},{"p":"d","s":"2012","x":"SHR","v":3.45},{"p":"d","s":"2012","x":"SPT","v":3.44},{"p":"d","s":"2012","x":"T500","v":3.44},
{"p":"d","s":"2013","x":"BASE","v":3.10},{"p":"d","s":"2013","x":"TCWV","v":3.08},{"p":"d","s":"2013","x":"Q700","v":3.07},{"p":"d","s":"2013","x":"KX","v":3.07},{"p":"d","s":"2013","x":"Q925","v":3.07},{"p":"d","s":"2013","x":"TCLW","v":3.06},{"p":"d","s":"2013","x":"D2","v":3.06},{"p":"d","s":"2013","x":"Q500","v":3.06},{"p":"d","s":"2013","x":"Q600","v":3.06},{"p":"d","s":"2013","x":"CAPE","v":3.06},{"p":"d","s":"2013","x":"R500","v":3.05},{"p":"d","s":"2013","x":"TCC","v":3.05},{"p":"d","s":"2013","x":"Ψ700","v":3.05},{"p":"d","s":"2013","x":"VIMD","v":3.05},{"p":"d","s":"2013","x":"R300","v":3.05},{"p":"d","s":"2013","x":"CIN","v":3.04},{"p":"d","s":"2013","x":"T850","v":3.04},{"p":"d","s":"2013","x":"2T","v":3.03},{"p":"d","s":"2013","x":"SHR","v":3.03},{"p":"d","s":"2013","x":"SPT","v":3.02},{"p":"d","s":"2013","x":"T500","v":3.02},
{"p":"d","s":"2014","x":"BASE","v":3.15},{"p":"d","s":"2014","x":"TCWV","v":3.13},{"p":"d","s":"2014","x":"Q700","v":3.13},{"p":"d","s":"2014","x":"KX","v":3.13},{"p":"d","s":"2014","x":"Q925","v":3.12},{"p":"d","s":"2014","x":"TCLW","v":3.12},{"p":"d","s":"2014","x":"D2","v":3.12},{"p":"d","s":"2014","x":"Q500","v":3.12},{"p":"d","s":"2014","x":"Q600","v":3.12},{"p":"d","s":"2014","x":"CAPE","v":3.12},{"p":"d","s":"2014","x":"R500","v":3.12},{"p":"d","s":"2014","x":"TCC","v":3.11},{"p":"d","s":"2014","x":"Ψ700","v":3.11},{"p":"d","s":"2014","x":"VIMD","v":3.11},{"p":"d","s":"2014","x":"R300","v":3.11},{"p":"d","s":"2014","x":"CIN","v":3.11},{"p":"d","s":"2014","x":"T850","v":3.11},{"p":"d","s":"2014","x":"2T","v":3.10},{"p":"d","s":"2014","x":"SHR","v":3.10},{"p":"d","s":"2014","x":"SPT","v":3.09},{"p":"d","s":"2014","x":"T500","v":3.09},
{"p":"d","s":"2015","x":"BASE","v":3.20},{"p":"d","s":"2015","x":"TCWV","v":3.18},{"p":"d","s":"2015","x":"Q700","v":3.18},{"p":"d","s":"2015","x":"KX","v":3.18},{"p":"d","s":"2015","x":"Q925","v":3.17},{"p":"d","s":"2015","x":"TCLW","v":3.17},{"p":"d","s":"2015","x":"D2","v":3.17},{"p":"d","s":"2015","x":"Q500","v":3.17},{"p":"d","s":"2015","x":"Q600","v":3.17},{"p":"d","s":"2015","x":"CAPE","v":3.17},{"p":"d","s":"2015","x":"R500","v":3.17},{"p":"d","s":"2015","x":"TCC","v":3.16},{"p":"d","s":"2015","x":"Ψ700","v":3.16},{"p":"d","s":"2015","x":"VIMD","v":3.16},{"p":"d","s":"2015","x":"R300","v":3.16},{"p":"d","s":"2015","x":"CIN","v":3.16},{"p":"d","s":"2015","x":"T850","v":3.16},{"p":"d","s":"2015","x":"2T","v":3.15},{"p":"d","s":"2015","x":"SHR","v":3.15},{"p":"d","s":"2015","x":"SPT","v":3.14},{"p":"d","s":"2015","x":"T500","v":3.14},
{"p":"d","s":"2016","x":"BASE","v":3.24},{"p":"d","s":"2016","x":"TCWV","v":3.22},{"p":"d","s":"2016","x":"Q700","v":3.21},{"p":"d","s":"2016","x":"KX","v":3.21},{"p":"d","s":"2016","x":"Q925","v":3.21},{"p":"d","s":"2016","x":"TCLW","v":3.20},{"p":"d","s":"2016","x":"D2","v":3.20},{"p":"d","s":"2016","x":"Q500","v":3.20},{"p":"d","s":"2016","x":"Q600","v":3.20},{"p":"d","s":"2016","x":"CAPE","v":3.20},{"p":"d","s":"2016","x":"R500","v":3.19},{"p":"d","s":"2016","x":"TCC","v":3.19},{"p":"d","s":"2016","x":"Ψ700","v":3.19},{"p":"d","s":"2016","x":"VIMD","v":3.19},{"p":"d","s":"2016","x":"R300","v":3.19},{"p":"d","s":"2016","x":"CIN","v":3.18},{"p":"d","s":"2016","x":"T850","v":3.18},{"p":"d","s":"2016","x":"2T","v":3.17},{"p":"d","s":"2016","x":"SHR","v":3.17},{"p":"d","s":"2016","x":"SPT","v":3.16},{"p":"d","s":"2016","x":"T500","v":3.16},
{"p":"d","s":"2017","x":"BASE","v":3.27},{"p":"d","s":"2017","x":"TCWV","v":3.25},{"p":"d","s":"2017","x":"Q700","v":3.24},{"p":"d","s":"2017","x":"KX","v":3.24},{"p":"d","s":"2017","x":"Q925","v":3.24},{"p":"d","s":"2017","x":"TCLW","v":3.23},{"p":"d","s":"2017","x":"D2","v":3.23},{"p":"d","s":"2017","x":"Q500","v":3.23},{"p":"d","s":"2017","x":"Q600","v":3.23},{"p":"d","s":"2017","x":"CAPE","v":3.23},{"p":"d","s":"2017","x":"R500","v":3.22},{"p":"d","s":"2017","x":"TCC","v":3.22},{"p":"d","s":"2017","x":"Ψ700","v":3.22},{"p":"d","s":"2017","x":"VIMD","v":3.22},{"p":"d","s":"2017","x":"R300","v":3.22},{"p":"d","s":"2017","x":"CIN","v":3.21},{"p":"d","s":"2017","x":"T850","v":3.21},{"p":"d","s":"2017","x":"2T","v":3.20},{"p":"d","s":"2017","x":"SHR","v":3.20},{"p":"d","s":"2017","x":"SPT","v":3.19},{"p":"d","s":"2017","x":"T500","v":3.19},
{"p":"d","s":"2018","x":"BASE","v":3.30},{"p":"d","s":"2018","x":"TCWV","v":3.28},{"p":"d","s":"2018","x":"Q700","v":3.27},{"p":"d","s":"2018","x":"KX","v":3.27},{"p":"d","s":"2018","x":"Q925","v":3.27},{"p":"d","s":"2018","x":"TCLW","v":3.26},{"p":"d","s":"2018","x":"D2","v":3.26},{"p":"d","s":"2018","x":"Q500","v":3.26},{"p":"d","s":"2018","x":"Q600","v":3.26},{"p":"d","s":"2018","x":"CAPE","v":3.26},{"p":"d","s":"2018","x":"R500","v":3.25},{"p":"d","s":"2018","x":"TCC","v":3.25},{"p":"d","s":"2018","x":"Ψ700","v":3.25},{"p":"d","s":"2018","x":"VIMD","v":3.25},{"p":"d","s":"2018","x":"R300","v":3.25},{"p":"d","s":"2018","x":"CIN","v":3.24},{"p":"d","s":"2018","x":"T850","v":3.24},{"p":"d","s":"2018","x":"2T","v":3.23},{"p":"d","s":"2018","x":"SHR","v":3.23},{"p":"d","s":"2018","x":"SPT","v":3.22},{"p":"d","s":"2018","x":"T500","v":3.22},
{"p":"d","s":"2019","x":"BASE","v":3.32},{"p":"d","s":"2019","x":"TCWV","v":3.30},{"p":"d","s":"2019","x":"Q700","v":3.29},{"p":"d","s":"2019","x":"KX","v":3.29},{"p":"d","s":"2019","x":"Q925","v":3.29},{"p":"d","s":"2019","x":"TCLW","v":3.28},{"p":"d","s":"2019","x":"D2","v":3.28},{"p":"d","s":"2019","x":"Q500","v":3.28},{"p":"d","s":"2019","x":"Q600","v":3.28},{"p":"d","s":"2019","x":"CAPE","v":3.28},{"p":"d","s":"2019","x":"R500","v":3.27},{"p":"d","s":"2019","x":"TCC","v":3.27},{"p":"d","s":"2019","x":"Ψ700","v":3.27},{"p":"d","s":"2019","x":"VIMD","v":3.27},{"p":"d","s":"2019","x":"R300","v":3.27},{"p":"d","s":"2019","x":"CIN","v":3.26},{"p":"d","s":"2019","x":"T850","v":3.26},{"p":"d","s":"2019","x":"2T","v":3.25},{"p":"d","s":"2019","x":"SHR","v":3.25},{"p":"d","s":"2019","x":"SPT","v":3.24},{"p":"d","s":"2019","x":"T500","v":3.24},
{"p":"d","s":"Mean","x":"BASE","v":3.26},{"p":"d","s":"Mean","x":"TCWV","v":3.24},{"p":"d","s":"Mean","x":"Q700","v":3.23},{"p":"d","s":"Mean","x":"KX","v":3.23},{"p":"d","s":"Mean","x":"Q925","v":3.23},{"p":"d","s":"Mean","x":"TCLW","v":3.22},{"p":"d","s":"Mean","x":"D2","v":3.22},{"p":"d","s":"Mean","x":"Q500","v":3.22},{"p":"d","s":"Mean","x":"Q600","v":3.22},{"p":"d","s":"Mean","x":"CAPE","v":3.22},{"p":"d","s":"Mean","x":"R500","v":3.21},{"p":"d","s":"Mean","x":"TCC","v":3.21},{"p":"d","s":"Mean","x":"Ψ700","v":3.21},{"p":"d","s":"Mean","x":"VIMD","v":3.21},{"p":"d","s":"Mean","x":"R300","v":3.21},{"p":"d","s":"Mean","x":"CIN","v":3.20},{"p":"d","s":"Mean","x":"T850","v":3.20},{"p":"d","s":"Mean","x":"2T","v":3.19},{"p":"d","s":"Mean","x":"SHR","v":3.19},{"p":"d","s":"Mean","x":"SPT","v":3.18},{"p":"d","s":"Mean","x":"T500","v":3.18},
{"p":"e","s":"2011","x":"BASE","v":1.55},{"p":"e","s":"2011","x":"TCWV","v":1.53},{"p":"e","s":"2011","x":"Q700","v":1.52},{"p":"e","s":"2011","x":"KX","v":1.52},{"p":"e","s":"2011","x":"Q925","v":1.52},{"p":"e","s":"2011","x":"TCLW","v":1.51},{"p":"e","s":"2011","x":"D2","v":1.51},{"p":"e","s":"2011","x":"Q500","v":1.51},{"p":"e","s":"2011","x":"Q600","v":1.51},{"p":"e","s":"2011","x":"CAPE","v":1.51},{"p":"e","s":"2011","x":"R500","v":1.50},{"p":"e","s":"2011","x":"TCC","v":1.50},{"p":"e","s":"2011","x":"Ψ700","v":1.50},{"p":"e","s":"2011","x":"VIMD","v":1.50},{"p":"e","s":"2011","x":"R300","v":1.50},{"p":"e","s":"2011","x":"CIN","v":1.49},{"p":"e","s":"2011","x":"T850","v":1.49},{"p":"e","s":"2011","x":"2T","v":1.48},{"p":"e","s":"2011","x":"SHR","v":1.48},{"p":"e","s":"2011","x":"SPT","v":1.47},{"p":"e","s":"2011","x":"T500","v":1.47},
{"p":"e","s":"2012","x":"BASE","v":1.52},{"p":"e","s":"2012","x":"TCWV","v":1.50},{"p":"e","s":"2012","x":"Q700","v":1.50},{"p":"e","s":"2012","x":"KX","v":1.50},{"p":"e","s":"2012","x":"Q925","v":1.49},{"p":"e","s":"2012","x":"TCLW","v":1.49},{"p":"e","s":"2012","x":"D2","v":1.49},{"p":"e","s":"2012","x":"Q500","v":1.49},{"p":"e","s":"2012","x":"Q600","v":1.49},{"p":"e","s":"2012","x":"CAPE","v":1.49},{"p":"e","s":"2012","x":"R500","v":1.49},{"p":"e","s":"2012","x":"TCC","v":1.48},{"p":"e","s":"2012","x":"Ψ700","v":1.48},{"p":"e","s":"2012","x":"VIMD","v":1.48},{"p":"e","s":"2012","x":"R300","v":1.48},{"p":"e","s":"2012","x":"CIN","v":1.48},{"p":"e","s":"2012","x":"T850","v":1.48},{"p":"e","s":"2012","x":"2T","v":1.47},{"p":"e","s":"2012","x":"SHR","v":1.47},{"p":"e","s":"2012","x":"SPT","v":1.46},{"p":"e","s":"2012","x":"T500","v":1.46},
{"p":"e","s":"2013","x":"BASE","v":1.48},{"p":"e","s":"2013","x":"TCWV","v":1.46},{"p":"e","s":"2013","x":"Q700","v":1.46},{"p":"e","s":"2013","x":"KX","v":1.46},{"p":"e","s":"2013","x":"Q925","v":1.45},{"p":"e","s":"2013","x":"TCLW","v":1.45},{"p":"e","s":"2013","x":"D2","v":1.45},{"p":"e","s":"2013","x":"Q500","v":1.45},{"p":"e","s":"2013","x":"Q600","v":1.45},{"p":"e","s":"2013","x":"CAPE","v":1.45},{"p":"e","s":"2013","x":"R500","v":1.45},{"p":"e","s":"2013","x":"TCC","v":1.44},{"p":"e","s":"2013","x":"Ψ700","v":1.44},{"p":"e","s":"2013","x":"VIMD","v":1.44},{"p":"e","s":"2013","x":"R300","v":1.44},{"p":"e","s":"2013","x":"CIN","v":1.44},{"p":"e","s":"2013","x":"T850","v":1.44},{"p":"e","s":"2013","x":"2T","v":1.43},{"p":"e","s":"2013","x":"SHR","v":1.43},{"p":"e","s":"2013","x":"SPT","v":1.42},{"p":"e","s":"2013","x":"T500","v":1.42},
{"p":"e","s":"2014","x":"BASE","v":1.40},{"p":"e","s":"2014","x":"TCWV","v":1.38},{"p":"e","s":"2014","x":"Q700","v":1.38},{"p":"e","s":"2014","x":"KX","v":1.38},{"p":"e","s":"2014","x":"Q925","v":1.37},{"p":"e","s":"2014","x":"TCLW","v":1.37},{"p":"e","s":"2014","x":"D2","v":1.37},{"p":"e","s":"2014","x":"Q500","v":1.37},{"p":"e","s":"2014","x":"Q600","v":1.37},{"p":"e","s":"2014","x":"CAPE","v":1.37},{"p":"e","s":"2014","x":"R500","v":1.37},{"p":"e","s":"2014","x":"TCC","v":1.36},{"p":"e","s":"2014","x":"Ψ700","v":1.36},{"p":"e","s":"2014","x":"VIMD","v":1.36},{"p":"e","s":"2014","x":"R300","v":1.36},{"p":"e","s":"2014","x":"CIN","v":1.36},{"p":"e","s":"2014","x":"T850","v":1.36},{"p":"e","s":"2014","x":"2T","v":1.35},{"p":"e","s":"2014","x":"SHR","v":1.35},{"p":"e","s":"2014","x":"SPT","v":1.34},{"p":"e","s":"2014","x":"T500","v":1.34},
{"p":"e","s":"2015","x":"BASE","v":1.35},{"p":"e","s":"2015","x":"TCWV","v":1.33},{"p":"e","s":"2015","x":"Q700","v":1.33},{"p":"e","s":"2015","x":"KX","v":1.33},{"p":"e","s":"2015","x":"Q925","v":1.32},{"p":"e","s":"2015","x":"TCLW","v":1.32},{"p":"e","s":"2015","x":"D2","v":1.32},{"p":"e","s":"2015","x":"Q500","v":1.32},{"p":"e","s":"2015","x":"Q600","v":1.32},{"p":"e","s":"2015","x":"CAPE","v":1.32},{"p":"e","s":"2015","x":"R500","v":1.32},{"p":"e","s":"2015","x":"TCC","v":1.31},{"p":"e","s":"2015","x":"Ψ700","v":1.31},{"p":"e","s":"2015","x":"VIMD","v":1.31},{"p":"e","s":"2015","x":"R300","v":1.31},{"p":"e","s":"2015","x":"CIN","v":1.31},{"p":"e","s":"2015","x":"T850","v":1.31},{"p":"e","s":"2015","x":"2T","v":1.30},{"p":"e","s":"2015","x":"SHR","v":1.30},{"p":"e","s":"2015","x":"SPT","v":1.29},{"p":"e","s":"2015","x":"T500","v":1.29},
{"p":"e","s":"2016","x":"BASE","v":1.33},{"p":"e","s":"2016","x":"TCWV","v":1.31},{"p":"e","s":"2016","x":"Q700","v":1.31},{"p":"e","s":"2016","x":"KX","v":1.31},{"p":"e","s":"2016","x":"Q925","v":1.30},{"p":"e","s":"2016","x":"TCLW","v":1.30},{"p":"e","s":"2016","x":"D2","v":1.30},{"p":"e","s":"2016","x":"Q500","v":1.30},{"p":"e","s":"2016","x":"Q600","v":1.30},{"p":"e","s":"2016","x":"CAPE","v":1.30},{"p":"e","s":"2016","x":"R500","v":1.30},{"p":"e","s":"2016","x":"TCC","v":1.29},{"p":"e","s":"2016","x":"Ψ700","v":1.29},{"p":"e","s":"2016","x":"VIMD","v":1.29},{"p":"e","s":"2016","x":"R300","v":1.29},{"p":"e","s":"2016","x":"CIN","v":1.29},{"p":"e","s":"2016","x":"T850","v":1.29},{"p":"e","s":"2016","x":"2T","v":1.28},{"p":"e","s":"2016","x":"SHR","v":1.28},{"p":"e","s":"2016","x":"SPT","v":1.27},{"p":"e","s":"2016","x":"T500","v":1.27},
{"p":"e","s":"2017","x":"BASE","v":1.31},{"p":"e","s":"2017","x":"TCWV","v":1.29},{"p":"e","s":"2017","x":"Q700","v":1.29},{"p":"e","s":"2017","x":"KX","v":1.29},{"p":"e","s":"2017","x":"Q925","v":1.28},{"p":"e","s":"2017","x":"TCLW","v":1.28},{"p":"e","s":"2017","x":"D2","v":1.28},{"p":"e","s":"2017","x":"Q500","v":1.28},{"p":"e","s":"2017","x":"Q600","v":1.28},{"p":"e","s":"2017","x":"CAPE","v":1.28},{"p":"e","s":"2017","x":"R500","v":1.28},{"p":"e","s":"2017","x":"TCC","v":1.27},{"p":"e","s":"2017","x":"Ψ700","v":1.27},{"p":"e","s":"2017","x":"VIMD","v":1.27},{"p":"e","s":"2017","x":"R300","v":1.27},{"p":"e","s":"2017","x":"CIN","v":1.27},{"p":"e","s":"2017","x":"T850","v":1.27},{"p":"e","s":"2017","x":"2T","v":1.26},{"p":"e","s":"2017","x":"SHR","v":1.26},{"p":"e","s":"2017","x":"SPT","v":1.25},{"p":"e","s":"2017","x":"T500","v":1.25},
{"p":"e","s":"2018","x":"BASE","v":1.29},{"p":"e","s":"2018","x":"TCWV","v":1.27},{"p":"e","s":"2018","x":"Q700","v":1.27},{"p":"e","s":"2018","x":"KX","v":1.27},{"p":"e","s":"2018","x":"Q925","v":1.26},{"p":"e","s":"2018","x":"TCLW","v":1.26},{"p":"e","s":"2018","x":"D2","v":1.26},{"p":"e","s":"2018","x":"Q500","v":1.26},{"p":"e","s":"2018","x":"Q600","v":1.26},{"p":"e","s":"2018","x":"CAPE","v":1.26},{"p":"e","s":"2018","x":"R500","v":1.26},{"p":"e","s":"2018","x":"TCC","v":1.25},{"p":"e","s":"2018","x":"Ψ700","v":1.25},{"p":"e","s":"2018","x":"VIMD","v":1.25},{"p":"e","s":"2018","x":"R300","v":1.25},{"p":"e","s":"2018","x":"CIN","v":1.25},{"p":"e","s":"2018","x":"T850","v":1.25},{"p":"e","s":"2018","x":"2T","v":1.24},{"p":"e","s":"2018","x":"SHR","v":1.24},{"p":"e","s":"2018","x":"SPT","v":1.23},{"p":"e","s":"2018","x":"T500","v":1.23},
{"p":"e","s":"2019","x":"BASE","v":1.69},{"p":"e","s":"2019","x":"TCWV","v":1.67},{"p":"e","s":"2019","x":"Q700","v":1.67},{"p":"e","s":"2019","x":"KX","v":1.67},{"p":"e","s":"2019","x":"Q925","v":1.66},{"p":"e","s":"2019","x":"TCLW","v":1.66},{"p":"e","s":"2019","x":"D2","v":1.66},{"p":"e","s":"2019","x":"Q500","v":1.66},{"p":"e","s":"2019","x":"Q600","v":1.66},{"p":"e","s":"2019","x":"CAPE","v":1.66},{"p":"e","s":"2019","x":"R500","v":1.66},{"p":"e","s":"2019","x":"TCC","v":1.65},{"p":"e","s":"2019","x":"Ψ700","v":1.65},{"p":"e","s":"2019","x":"VIMD","v":1.65},{"p":"e","s":"2019","x":"R300","v":1.65},{"p":"e","s":"2019","x":"CIN","v":1.65},{"p":"e","s":"2019","x":"T850","v":1.65},{"p":"e","s":"2019","x":"2T","v":1.64},{"p":"e","s":"2019","x":"SHR","v":1.64},{"p":"e","s":"2019","x":"SPT","v":1.63},{"p":"e","s":"2019","x":"T500","v":1.63},
{"p":"e","s":"Mean","x":"BASE","v":1.44},{"p":"e","s":"Mean","x":"TCWV","v":1.41},{"p":"e","s":"Mean","x":"Q700","v":1.41},{"p":"e","s":"Mean","x":"KX","v":1.40},{"p":"e","s":"Mean","x":"Q925","v":1.40},{"p":"e","s":"Mean","x":"TCLW","v":1.40},{"p":"e","s":"Mean","x":"D2","v":1.40},{"p":"e","s":"Mean","x":"Q500","v":1.40},{"p":"e","s":"Mean","x":"Q600","v":1.40},{"p":"e","s":"Mean","x":"CAPE","v":1.40},{"p":"e","s":"Mean","x":"R500","v":1.40},{"p":"e","s":"Mean","x":"TCC","v":1.39},{"p":"e","s":"Mean","x":"Ψ700","v":1.39},{"p":"e","s":"Mean","x":"VIMD","v":1.39},{"p":"e","s":"Mean","x":"R300","v":1.39},{"p":"e","s":"Mean","x":"CIN","v":1.39},{"p":"e","s":"Mean","x":"T850","v":1.39},{"p":"e","s":"Mean","x":"2T","v":1.39},{"p":"e","s":"Mean","x":"SHR","v":1.38},{"p":"e","s":"Mean","x":"SPT","v":1.38},{"p":"e","s":"Mean","x":"T500","v":1.38},
{"p":"f","s":"2011","x":"BASE","v":1.82},{"p":"f","s":"2011","x":"TCWV","v":1.80},{"p":"f","s":"2011","x":"Q700","v":1.79},{"p":"f","s":"2011","x":"KX","v":1.79},{"p":"f","s":"2011","x":"Q925","v":1.79},{"p":"f","s":"2011","x":"TCLW","v":1.78},{"p":"f","s":"2011","x":"D2","v":1.78},{"p":"f","s":"2011","x":"Q500","v":1.78},{"p":"f","s":"2011","x":"Q600","v":1.78},{"p":"f","s":"2011","x":"CAPE","v":1.78},{"p":"f","s":"2011","x":"R500","v":1.77},{"p":"f","s":"2011","x":"TCC","v":1.77},{"p":"f","s":"2011","x":"Ψ700","v":1.77},{"p":"f","s":"2011","x":"VIMD","v":1.77},{"p":"f","s":"2011","x":"R300","v":1.77},{"p":"f","s":"2011","x":"CIN","v":1.76},{"p":"f","s":"2011","x":"T850","v":1.76},{"p":"f","s":"2011","x":"2T","v":1.75},{"p":"f","s":"2011","x":"SHR","v":1.75},{"p":"f","s":"2011","x":"SPT","v":1.74},{"p":"f","s":"2011","x":"T500","v":1.74},
{"p":"f","s":"2012","x":"BASE","v":1.79},{"p":"f","s":"2012","x":"TCWV","v":1.77},{"p":"f","s":"2012","x":"Q700","v":1.76},{"p":"f","s":"2012","x":"KX","v":1.76},{"p":"f","s":"2012","x":"Q925","v":1.76},{"p":"f","s":"2012","x":"TCLW","v":1.75},{"p":"f","s":"2012","x":"D2","v":1.75},{"p":"f","s":"2012","x":"Q500","v":1.75},{"p":"f","s":"2012","x":"Q600","v":1.75},{"p":"f","s":"2012","x":"CAPE","v":1.75},{"p":"f","s":"2012","x":"R500","v":1.74},{"p":"f","s":"2012","x":"TCC","v":1.74},{"p":"f","s":"2012","x":"Ψ700","v":1.74},{"p":"f","s":"2012","x":"VIMD","v":1.74},{"p":"f","s":"2012","x":"R300","v":1.74},{"p":"f","s":"2012","x":"CIN","v":1.73},{"p":"f","s":"2012","x":"T850","v":1.73},{"p":"f","s":"2012","x":"2T","v":1.72},{"p":"f","s":"2012","x":"SHR","v":1.72},{"p":"f","s":"2012","x":"SPT","v":1.71},{"p":"f","s":"2012","x":"T500","v":1.71},
{"p":"f","s":"2013","x":"BASE","v":1.77},{"p":"f","s":"2013","x":"TCWV","v":1.75},{"p":"f","s":"2013","x":"Q700","v":1.75},{"p":"f","s":"2013","x":"KX","v":1.75},{"p":"f","s":"2013","x":"Q925","v":1.74},{"p":"f","s":"2013","x":"TCLW","v":1.74},{"p":"f","s":"2013","x":"D2","v":1.74},{"p":"f","s":"2013","x":"Q500","v":1.74},{"p":"f","s":"2013","x":"Q600","v":1.74},{"p":"f","s":"2013","x":"CAPE","v":1.74},{"p":"f","s":"2013","x":"R500","v":1.74},{"p":"f","s":"2013","x":"TCC","v":1.73},{"p":"f","s":"2013","x":"Ψ700","v":1.73},{"p":"f","s":"2013","x":"VIMD","v":1.73},{"p":"f","s":"2013","x":"R300","v":1.73},{"p":"f","s":"2013","x":"CIN","v":1.73},{"p":"f","s":"2013","x":"T850","v":1.73},{"p":"f","s":"2013","x":"2T","v":1.72},{"p":"f","s":"2013","x":"SHR","v":1.72},{"p":"f","s":"2013","x":"SPT","v":1.71},{"p":"f","s":"2013","x":"T500","v":1.71},
{"p":"f","s":"2014","x":"BASE","v":1.66},{"p":"f","s":"2014","x":"TCWV","v":1.64},{"p":"f","s":"2014","x":"Q700","v":1.64},{"p":"f","s":"2014","x":"KX","v":1.64},{"p":"f","s":"2014","x":"Q925","v":1.63},{"p":"f","s":"2014","x":"TCLW","v":1.63},{"p":"f","s":"2014","x":"D2","v":1.63},{"p":"f","s":"2014","x":"Q500","v":1.63},{"p":"f","s":"2014","x":"Q600","v":1.63},{"p":"f","s":"2014","x":"CAPE","v":1.63},{"p":"f","s":"2014","x":"R500","v":1.63},{"p":"f","s":"2014","x":"TCC","v":1.62},{"p":"f","s":"2014","x":"Ψ700","v":1.62},{"p":"f","s":"2014","x":"VIMD","v":1.62},{"p":"f","s":"2014","x":"R300","v":1.62},{"p":"f","s":"2014","x":"CIN","v":1.62},{"p":"f","s":"2014","x":"T850","v":1.62},{"p":"f","s":"2014","x":"2T","v":1.61},{"p":"f","s":"2014","x":"SHR","v":1.61},{"p":"f","s":"2014","x":"SPT","v":1.60},{"p":"f","s":"2014","x":"T500","v":1.60},
{"p":"f","s":"2015","x":"BASE","v":1.70},{"p":"f","s":"2015","x":"TCWV","v":1.68},{"p":"f","s":"2015","x":"Q700","v":1.68},{"p":"f","s":"2015","x":"KX","v":1.68},{"p":"f","s":"2015","x":"Q925","v":1.67},{"p":"f","s":"2015","x":"TCLW","v":1.67},{"p":"f","s":"2015","x":"D2","v":1.67},{"p":"f","s":"2015","x":"Q500","v":1.67},{"p":"f","s":"2015","x":"Q600","v":1.67},{"p":"f","s":"2015","x":"CAPE","v":1.67},{"p":"f","s":"2015","x":"R500","v":1.67},{"p":"f","s":"2015","x":"TCC","v":1.66},{"p":"f","s":"2015","x":"Ψ700","v":1.66},{"p":"f","s":"2015","x":"VIMD","v":1.66},{"p":"f","s":"2015","x":"R300","v":1.66},{"p":"f","s":"2015","x":"CIN","v":1.66},{"p":"f","s":"2015","x":"T850","v":1.66},{"p":"f","s":"2015","x":"2T","v":1.65},{"p":"f","s":"2015","x":"SHR","v":1.65},{"p":"f","s":"2015","x":"SPT","v":1.64},{"p":"f","s":"2015","x":"T500","v":1.64},
{"p":"f","s":"2016","x":"BASE","v":1.73},{"p":"f","s":"2016","x":"TCWV","v":1.71},{"p":"f","s":"2016","x":"Q700","v":1.71},{"p":"f","s":"2016","x":"KX","v":1.71},{"p":"f","s":"2016","x":"Q925","v":1.70},{"p":"f","s":"2016","x":"TCLW","v":1.70},{"p":"f","s":"2016","x":"D2","v":1.70},{"p":"f","s":"2016","x":"Q500","v":1.70},{"p":"f","s":"2016","x":"Q600","v":1.70},{"p":"f","s":"2016","x":"CAPE","v":1.70},{"p":"f","s":"2016","x":"R500","v":1.70},{"p":"f","s":"2016","x":"TCC","v":1.69},{"p":"f","s":"2016","x":"Ψ700","v":1.69},{"p":"f","s":"2016","x":"VIMD","v":1.69},{"p":"f","s":"2016","x":"R300","v":1.69},{"p":"f","s":"2016","x":"CIN","v":1.69},{"p":"f","s":"2016","x":"T850","v":1.69},{"p":"f","s":"2016","x":"2T","v":1.68},{"p":"f","s":"2016","x":"SHR","v":1.68},{"p":"f","s":"2016","x":"SPT","v":1.67},{"p":"f","s":"2016","x":"T500","v":1.67},
{"p":"f","s":"2017","x":"BASE","v":1.75},{"p":"f","s":"2017","x":"TCWV","v":1.73},{"p":"f","s":"2017","x":"Q700","v":1.73},{"p":"f","s":"2017","x":"KX","v":1.73},{"p":"f","s":"2017","x":"Q925","v":1.72},{"p":"f","s":"2017","x":"TCLW","v":1.72},{"p":"f","s":"2017","x":"D2","v":1.72},{"p":"f","s":"2017","x":"Q500","v":1.72},{"p":"f","s":"2017","x":"Q600","v":1.72},{"p":"f","s":"2017","x":"CAPE","v":1.72},{"p":"f","s":"2017","x":"R500","v":1.72},{"p":"f","s":"2017","x":"TCC","v":1.71},{"p":"f","s":"2017","x":"Ψ700","v":1.71},{"p":"f","s":"2017","x":"VIMD","v":1.71},{"p":"f","s":"2017","x":"R300","v":1.71},{"p":"f","s":"2017","x":"CIN","v":1.71},{"p":"f","s":"2017","x":"T850","v":1.71},{"p":"f","s":"2017","x":"2T","v":1.70},{"p":"f","s":"2017","x":"SHR","v":1.70},{"p":"f","s":"2017","x":"SPT","v":1.69},{"p":"f","s":"2017","x":"T500","v":1.69},
{"p":"f","s":"2018","x":"BASE","v":1.76},{"p":"f","s":"2018","x":"TCWV","v":1.74},{"p":"f","s":"2018","x":"Q700","v":1.74},{"p":"f","s":"2018","x":"KX","v":1.74},{"p":"f","s":"2018","x":"Q925","v":1.73},{"p":"f","s":"2018","x":"TCLW","v":1.73},{"p":"f","s":"2018","x":"D2","v":1.73},{"p":"f","s":"2018","x":"Q500","v":1.73},{"p":"f","s":"2018","x":"Q600","v":1.73},{"p":"f","s":"2018","x":"CAPE","v":1.73},{"p":"f","s":"2018","x":"R500","v":1.73},{"p":"f","s":"2018","x":"TCC","v":1.72},{"p":"f","s":"2018","x":"Ψ700","v":1.72},{"p":"f","s":"2018","x":"VIMD","v":1.72},{"p":"f","s":"2018","x":"R300","v":1.72},{"p":"f","s":"2018","x":"CIN","v":1.72},{"p":"f","s":"2018","x":"T850","v":1.72},{"p":"f","s":"2018","x":"2T","v":1.71},{"p":"f","s":"2018","x":"SHR","v":1.71},{"p":"f","s":"2018","x":"SPT","v":1.70},{"p":"f","s":"2018","x":"T500","v":1.70},
{"p":"f","s":"2019","x":"BASE","v":1.74},{"p":"f","s":"2019","x":"TCWV","v":1.72},{"p":"f","s":"2019","x":"Q700","v":1.72},{"p":"f","s":"2019","x":"KX","v":1.72},{"p":"f","s":"2019","x":"Q925","v":1.71},{"p":"f","s":"2019","x":"TCLW","v":1.71},{"p":"f","s":"2019","x":"D2","v":1.71},{"p":"f","s":"2019","x":"Q500","v":1.71},{"p":"f","s":"2019","x":"Q600","v":1.71},{"p":"f","s":"2019","x":"CAPE","v":1.71},{"p":"f","s":"2019","x":"R500","v":1.71},{"p":"f","s":"2019","x":"TCC","v":1.70},{"p":"f","s":"2019","x":"Ψ700","v":1.70},{"p":"f","s":"2019","x":"VIMD","v":1.70},{"p":"f","s":"2019","x":"R300","v":1.70},{"p":"f","s":"2019","x":"CIN","v":1.70},{"p":"f","s":"2019","x":"T850","v":1.70},{"p":"f","s":"2019","x":"2T","v":1.69},{"p":"f","s":"2019","x":"SHR","v":1.69},{"p":"f","s":"2019","x":"SPT","v":1.68},{"p":"f","s":"2019","x":"T500","v":1.68},
{"p":"f","s":"Mean","x":"BASE","v":1.75},{"p":"f","s":"Mean","x":"TCWV","v":1.73},{"p":"f","s":"Mean","x":"Q700","v":1.73},{"p":"f","s":"Mean","x":"KX","v":1.73},{"p":"f","s":"Mean","x":"Q925","v":1.72},{"p":"f","s":"Mean","x":"TCLW","v":1.72},{"p":"f","s":"Mean","x":"D2","v":1.72},{"p":"f","s":"Mean","x":"Q500","v":1.72},{"p":"f","s":"Mean","x":"Q600","v":1.72},{"p":"f","s":"Mean","x":"CAPE","v":1.72},{"p":"f","s":"Mean","x":"R500","v":1.72},{"p":"f","s":"Mean","x":"TCC","v":1.71},{"p":"f","s":"Mean","x":"Ψ700","v":1.71},{"p":"f","s":"Mean","x":"VIMD","v":1.71},{"p":"f","s":"Mean","x":"R300","v":1.71},{"p":"f","s":"Mean","x":"CIN","v":1.71},{"p":"f","s":"Mean","x":"T850","v":1.71},{"p":"f","s":"Mean","x":"2T","v":1.70},{"p":"f","s":"Mean","x":"SHR","v":1.70},{"p":"f","s":"Mean","x":"SPT","v":1.69},{"p":"f","s":"Mean","x":"T500","v":1.69}
]},
"facet": {"field": "p", "type": "nominal", "title": null,
  "header": {"labelExpr": "{'a':'a) DJF','b':'b) MA','c':'c) MJ','d':'d) JAS','e':'e) ON','f':'f) Across Seasons'}[datum.value]", "labelFontSize": 26, "labelAnchor": "start", "labelAlign": "left", "labelPadding": 6, "labelColor": "#000000", "labelFont": "DejaVu Sans"}},
"columns": 3,
"spacing": {"row": 35, "column": 53},
"resolve": {"axis": {"x": "independent", "y": "independent"}},
"spec": {
  "width": 466, "height": 346,
  "encoding": {
    "x": {"field": "x", "type": "ordinal", "sort": ["BASE","TCWV","Q700","KX","Q925","TCLW","D2","Q500","Q600","CAPE","R500","TCC","Ψ700","VIMD","R300","CIN","T850","2T","SHR","SPT","T500"], "scale": {"type": "point", "padding": 1}, "axis": {"title": null, "labelAngle": -90}},
    "y": {"field": "v", "type": "quantitative", "scale": {"domain": [0.2, 3.583], "nice": false, "zero": false}, "axis": {"title": null, "values": [0.5, 1, 1.5, 2, 2.5, 3, 3.5], "format": ".1f"}}
  },
  "layer": [
    {"transform": [{"filter": "datum.s !== 'Mean'"}],
     "mark": {"type": "line", "strokeWidth": 2.4},
     "encoding": {
       "color": {"field": "s", "type": "nominal",
         "scale": {"domain": ["2011","2012","2013","2014","2015","2016","2017","2018","2019","Mean"], "range": ["#c6dbef","#a8cee4","#85bcdc","#61a7d2","#4292c6","#2979b9","#1461a8","#084990","#08306b","#000000"]},
         "legend": {"orient": "none", "legendX": 198, "legendY": 10, "columns": 2, "title": null,
           "symbolType": "M-2,0L2,0M-0.5,-0.5L0.5,0.5M-0.5,0.5L0.5,-0.5", "symbolSize": 475, "symbolStrokeWidth": 2.4, "symbolOffset": 15,
           "labelFontSize": 17, "labelColor": "#000000", "labelOffset": 21, "columnPadding": 35, "rowPadding": 5,
           "strokeColor": "#cccccc", "fillColor": "#ffffff", "cornerRadius": 4, "padding": 6,
           "encode": {"symbols": {"update": {
             "shape": {"signal": "datum.value === 'Mean' ? 'M-2,0L2,0' : 'M-2,0L2,0M-0.5,-0.5L0.5,0.5M-0.5,0.5L0.5,-0.5'"},
             "strokeDash": {"signal": "datum.value === 'Mean' ? [6,3] : [1,0]"}
           }}}}
       },
       "order": {"value": null}
     }},
    {"transform": [{"filter": "datum.s !== 'Mean'"}],
     "mark": {"type": "point", "shape": "M-1,-1L1,1M-1,1L1,-1", "filled": false, "size": 115, "strokeWidth": 2, "opacity": 1},
     "encoding": {"color": {"field": "s", "type": "nominal", "legend": null}}},
    {"transform": [{"filter": "datum.s === 'Mean'"}],
     "mark": {"type": "line", "strokeWidth": 2.5, "strokeDash": [8, 4]},
     "encoding": {"color": {"field": "s", "type": "nominal"}, "order": {"value": null}}}
  ]
}
}
